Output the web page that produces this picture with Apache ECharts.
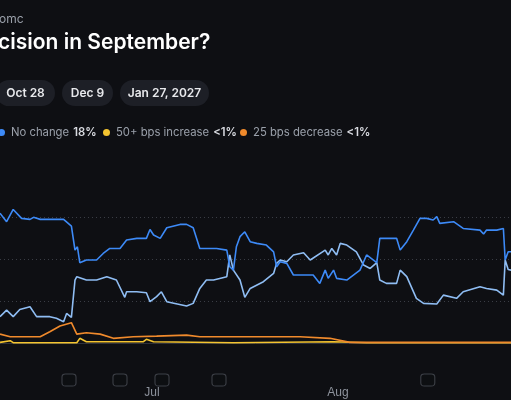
<!DOCTYPE html>
<html><head><meta charset="utf-8">
<script src="https://cdn.jsdelivr.net/npm/echarts@6/dist/echarts.min.js"></script>
<style>
body{margin:0;background:#0e0f13;font-family:Inter,"Noto Sans",sans-serif;overflow:hidden}
#chart{position:absolute;left:0;top:0;width:511px;height:400px}
.hd{position:absolute;color:#fff;white-space:nowrap}
.pill{position:absolute;top:80px;height:26px;line-height:26px;background:#1d1f26;border-radius:13px;color:#e8e9ec;font-size:12px;font-weight:600;text-align:center}
.lg{position:absolute;top:125px;font-size:11.3px;color:#9aa0aa;white-space:nowrap}
.lg b{color:#d8dae0;font-weight:600;margin-left:4px}
.dot{display:inline-block;width:7px;height:7px;border-radius:50%;margin-right:6px;vertical-align:0}
</style></head>
<body>
<div id="chart"></div>
<div class="hd" style="left:-1px;top:11px;font-size:12px;color:#9aa0aa">omc</div>
<div class="hd" style="left:-2px;top:29px;font-size:21px;font-weight:600">cision in September?</div>
<div class="pill" style="left:-4px;width:59px">Oct 28</div>
<div class="pill" style="left:62px;width:51px">Dec 9</div>
<div class="pill" style="left:120px;width:89px">Jan 27, 2027</div>
<div class="lg" style="left:-2px"><span class="dot" style="background:#3d8af7"></span>No change<b>18%</b></div>
<div class="lg" style="left:103px"><span class="dot" style="background:#f4c430"></span>50+ bps increase<b>&lt;1%</b></div>
<div class="lg" style="left:240px"><span class="dot" style="background:#f08a2c"></span>25 bps decrease<b>&lt;1%</b></div>
<script>
// days counted from the left edge of the visible window (~Jun 4)
const darkBlue = [[0,77.2],[1.1,72.2],[2.2,79.5],[3.6,74.2],[5.0,73.6],[5.6,74.8],[6.7,73.6],[10.6,73.6],[11.9,69.6],[12.5,55.3],[12.9,57.3],[13.3,47.8],[14.4,49.4],[16.1,49.4],[17.2,53.3],[18.3,56.3],[20.0,56.3],[21.1,61.3],[22.8,62.3],[24.4,62.3],[25.0,67.6],[25.6,64.3],[26.7,62.3],[27.8,68.6],[30.0,70.6],[31.1,70.6],[32.2,68.6],[33.3,56.3],[36.1,56.3],[37.8,55.3],[38.3,45.4],[38.9,43.4],[39.4,57.3],[40.0,63.3],[40.8,66.2],[41.7,60.3],[42.8,59.3],[44.4,58.3],[45.6,54.3],[46.1,45.4],[46.7,48.4],[47.8,47.4],[48.9,40.5],[52.2,40.5],[53.3,35.5],[54.2,43.4],[54.7,38.5],[55.6,43.4],[56.1,38.5],[57.8,37.5],[60.0,43.4],[61.1,52.4],[62.8,47.8],[63.3,62.3],[66.1,62.3],[66.7,55.3],[67.8,60.3],[68.9,67.2],[70.0,74.2],[71.1,74.2],[72.2,73.2],[72.8,75.2],[73.3,71.2],[75.6,72.2],[77.2,68.2],[80.0,67.2],[80.6,64.9],[81.1,67.2],[82.8,67.2],[83.9,68.2],[84.2,49.4],[84.7,54.3],[85.2,54.3]];
const lightBlue = [[0,15.7],[1.1,19.6],[2.2,15.7],[3.3,20.0],[5.0,21.6],[6.1,15.7],[8.3,15.7],[9.4,14.7],[10.6,12.7],[11.1,17.6],[11.9,15.3],[12.5,37.5],[12.8,39.5],[14.4,37.5],[16.1,37.5],[17.8,39.5],[19.4,37.5],[20.8,27.2],[21.1,30.5],[22.8,30.5],[24.4,29.9],[25.0,24.6],[26.1,27.6],[26.9,30.5],[27.8,24.6],[31.1,22.0],[32.2,23.6],[33.3,32.5],[34.4,37.5],[35.6,37.5],[37.8,39.5],[38.3,52.4],[38.9,43.4],[40.0,37.5],[40.8,27.2],[41.7,32.5],[43.9,36.5],[45.6,41.4],[46.1,47.4],[46.7,49.4],[47.8,48.4],[48.9,52.4],[50.6,53.7],[51.7,49.4],[54.2,55.3],[54.7,52.4],[55.3,56.3],[56.1,52.4],[56.7,59.3],[57.8,58.3],[59.4,54.3],[60.6,46.4],[61.7,44.4],[62.8,47.8],[63.3,37.5],[64.4,35.5],[66.1,35.5],[66.7,43.4],[67.8,39.5],[69.4,26.6],[70.6,23.6],[72.8,23.2],[73.9,28.5],[76.1,26.6],[77.2,30.5],[80.0,33.5],[81.1,32.5],[82.8,31.5],[83.9,28.5],[84.2,49.4],[84.7,43.8],[85.2,43.4]];
const orange = [[0,5.3],[1.7,3.7],[6.7,3.7],[8.3,6.7],[10.0,10.1],[11.9,12.1],[12.8,5.3],[14.4,6.1],[16.7,5.3],[18.9,2.8],[22.2,3.7],[26.1,4.1],[31.1,4.7],[33.3,3.7],[50.0,3.7],[55.0,2.8],[58.3,0.4],[85.2,0.4]];
const yellow = [[0,0.4],[1.7,1.4],[2.2,0.2],[12.8,0.2],[13.3,2.8],[14.4,0.8],[23.9,0.8],[24.4,2.2],[25.6,0.8],[38.9,0.2],[55.6,0.8],[61.1,0.2],[85.2,0.2]];
const monthTicks = [25.33, 56.33];
const monthLabels = ['Jul', 'Aug'];
const eventDays = [11.5, 20.0, 27.0, 36.5, 71.3];
const gridLevels = [25, 50, 75];

const chart = echarts.init(document.getElementById('chart'));
const line = (data, color, z) => ({
  type: 'line', data, showSymbol: false, z, animation: false,
  lineStyle: { color, width: 1.6 }
});
chart.setOption({
  backgroundColor: 'transparent',
  grid: { left: 0, right: 0, top: 175, bottom: 20 },
  xAxis: {
    type: 'value', min: 0, max: 85.17,
    axisLine: { show: true, lineStyle: { color: '#2f323a' } },
    axisTick: { show: false },
    splitLine: { show: false },
    axisLabel: {
      customValues: monthTicks, color: '#8d929c', fontSize: 12, margin: 7,
      formatter: v => monthLabels[monthTicks.indexOf(v)] || ''
    }
  },
  yAxis: { type: 'value', min: -22, max: 100, show: false, splitLine: { show: false } },
  series: [
    {
      type: 'line', data: [], silent: true,
      markLine: {
        symbol: 'none', silent: true, label: { show: false },
        lineStyle: { color: '#3a3d45', type: [1, 3], width: 1 },
        data: gridLevels.map(v => ({ yAxis: v }))
      }
    },
    line(yellow, '#f4c430', 3),
    line(orange, '#f08a2c', 4),
    line(lightBlue, '#8fbdf3', 5),
    line(darkBlue, '#3d8af7', 6),
    {
      type: 'scatter', symbol: 'roundRect', symbolSize: [14, 12], z: 7,
      data: eventDays.map(d => [d, -22]),
      itemStyle: { color: '#0e0f13', borderColor: '#4a4d55', borderWidth: 1 }
    }
  ]
});
</script>
</body></html>
